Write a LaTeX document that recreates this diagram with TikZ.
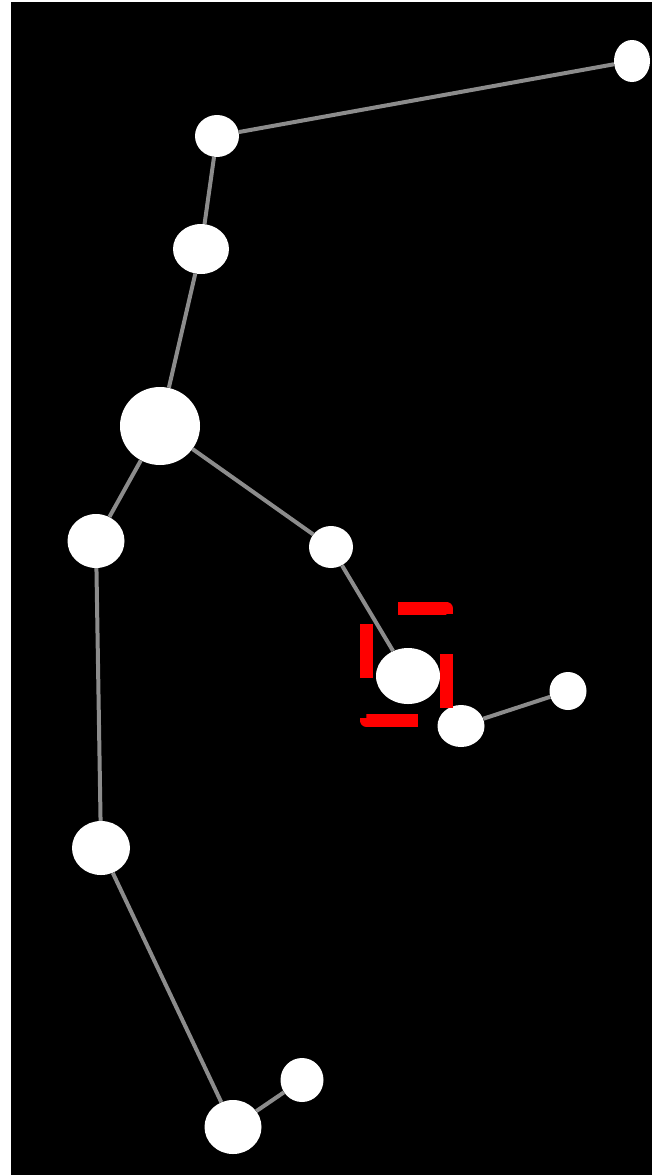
\documentclass[tikz,border=0pt]{standalone}
\usetikzlibrary{shapes.geometric}
\definecolor{bonegrey}{RGB}{140,140,140}
\definecolor{markred}{RGB}{255,0,0}
\begin{document}
\begin{tikzpicture}[x=1bp,y=-1bp,
  joint/.style={ellipse, fill=white, draw=none, inner sep=0pt},
  bone/.style={draw=bonegrey, line width=4bp},
  markbox/.style={draw=markred, line width=13bp, dash pattern=on 54bp off 40bp, dash phase=62bp, line join=round}]
\useasboundingbox (0,0) rectangle (664,1175);
\fill[white] (0,0) rectangle (664,1175);
\fill[black] (11,2) rectangle (652,1175);
% joints
\node[joint, minimum width=36bp, minimum height=42bp] (n1) at (632,61) {};
\node[joint, minimum width=44bp, minimum height=42bp] (n2) at (217,136) {};
\node[joint, minimum width=56bp, minimum height=50bp] (n3) at (201,249) {};
\node[joint, minimum width=80bp, minimum height=78bp] (n4) at (160,426) {};
\node[joint, minimum width=57bp, minimum height=54bp] (n5) at (96,541) {};
\node[joint, minimum width=44bp, minimum height=42bp] (n6) at (331,547) {};
\node[joint, minimum width=64bp, minimum height=56bp] (n7) at (408,676) {};
\node[joint, minimum width=47bp, minimum height=42bp] (n8) at (461,726) {};
\node[joint, minimum width=37bp, minimum height=38bp] (n9) at (568,691) {};
\node[joint, minimum width=58bp, minimum height=54bp] (n10) at (101,848) {};
\node[joint, minimum width=57bp, minimum height=54bp] (n11) at (233,1127) {};
\node[joint, minimum width=43bp, minimum height=44bp] (n12) at (302,1080) {};
% bones
\draw[bone] (n1) -- (n2);
\draw[bone] (n2) -- (n3);
\draw[bone] (n3) -- (n4);
\draw[bone] (n4) -- (n5);
\draw[bone] (n4) -- (n6);
\draw[bone] (n6) -- (n7);
\draw[bone] (n8) -- (n9);
\draw[bone] (n5) -- (n10);
\draw[bone] (n10) -- (n11);
\draw[bone] (n11) -- (n12);
% highlight box
\coordinate (boxtl) at (366,608);
\coordinate (boxbr) at (446,720);
\draw[markbox] (boxtl) -- (boxtl -| boxbr) -- (boxbr) -- (boxtl |- boxbr) -- cycle;
\end{tikzpicture}
\end{document}
